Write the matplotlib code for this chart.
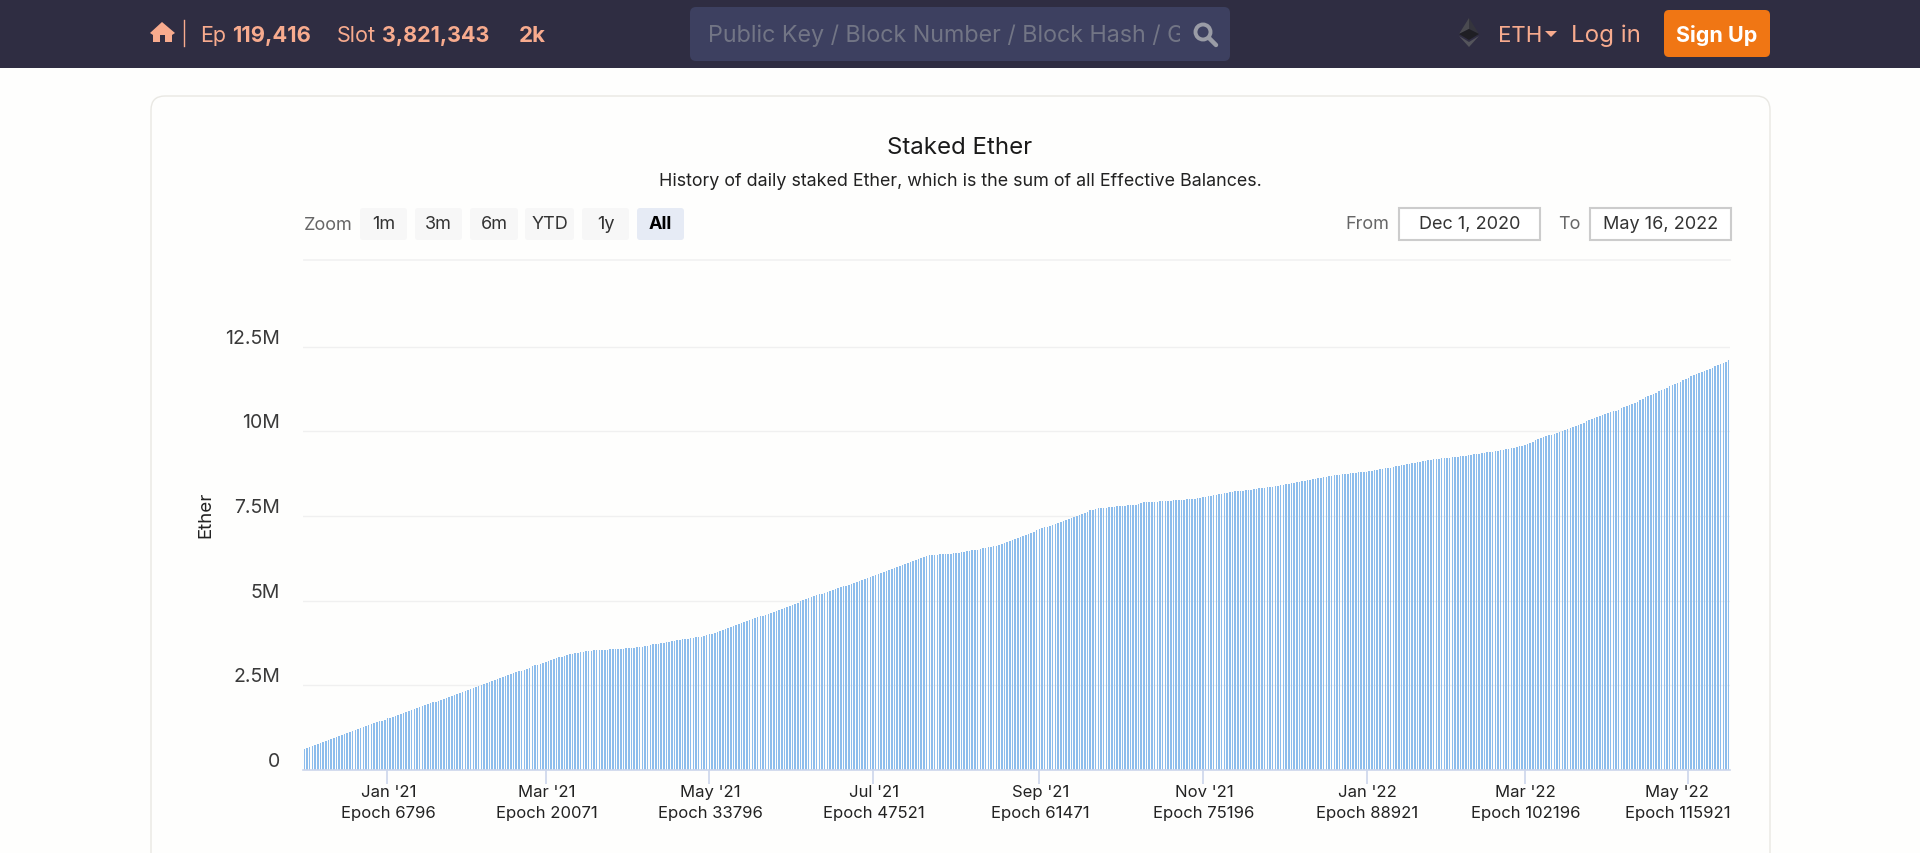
#!/usr/bin/env python
"""Staked Ether page: navbar, card and the daily column chart."""

import numpy as np
import matplotlib
matplotlib.use("Agg")
import matplotlib.pyplot as plt
from matplotlib.patches import Circle, FancyBboxPatch, Polygon, Rectangle

W, H = 1920, 854

# daily staked Ether in millions
dec_20 = [0.62, 0.65, 0.68, 0.71, 0.74, 0.77, 0.80, 0.83, 0.86, 0.89, 0.91, 0.94, 0.97, 1.00, 1.03, 1.06,
          1.09, 1.12, 1.15, 1.18, 1.21, 1.24, 1.27, 1.29, 1.32, 1.35, 1.37, 1.40, 1.43, 1.45, 1.48]
jan_21 = [1.52, 1.54, 1.57, 1.60, 1.62, 1.65, 1.68, 1.71, 1.74, 1.77, 1.80, 1.83, 1.85, 1.88, 1.91, 1.93,
          1.96, 1.99, 2.01, 2.04, 2.07, 2.10, 2.12, 2.15, 2.18, 2.20, 2.23, 2.26, 2.29, 2.33, 2.36]
feb_21 = [2.39, 2.42, 2.45, 2.48, 2.51, 2.54, 2.57, 2.60, 2.62, 2.65, 2.68, 2.71, 2.74, 2.77,
          2.80, 2.83, 2.85, 2.88, 2.91, 2.93, 2.96, 2.99, 3.02, 3.05, 3.08, 3.10, 3.13, 3.16]
mar_21 = [3.19, 3.21, 3.24, 3.26, 3.29, 3.32, 3.34, 3.36, 3.39, 3.41, 3.43, 3.44, 3.46, 3.47, 3.49, 3.50,
          3.51, 3.52, 3.53, 3.54, 3.54, 3.54, 3.55, 3.55, 3.56, 3.56, 3.57, 3.57, 3.58, 3.58, 3.59]
apr_21 = [3.59, 3.60, 3.61, 3.62, 3.63, 3.64, 3.66, 3.67, 3.68, 3.70, 3.71, 3.72, 3.74, 3.75, 3.77,
          3.78, 3.80, 3.81, 3.82, 3.83, 3.85, 3.86, 3.87, 3.88, 3.90, 3.91, 3.92, 3.93, 3.96, 3.98]
may_21 = [4.00, 4.02, 4.05, 4.07, 4.10, 4.13, 4.16, 4.19, 4.22, 4.25, 4.28, 4.31, 4.34, 4.37, 4.39, 4.42,
          4.45, 4.48, 4.50, 4.53, 4.55, 4.58, 4.60, 4.63, 4.66, 4.69, 4.72, 4.75, 4.78, 4.81, 4.84]
jun_21 = [4.87, 4.90, 4.94, 4.98, 5.01, 5.04, 5.07, 5.10, 5.13, 5.15, 5.18, 5.20, 5.23, 5.25, 5.28,
          5.31, 5.34, 5.37, 5.39, 5.42, 5.44, 5.47, 5.50, 5.52, 5.55, 5.57, 5.60, 5.63, 5.66, 5.68]
jul_21 = [5.71, 5.74, 5.77, 5.80, 5.83, 5.86, 5.89, 5.92, 5.96, 6.00, 6.03, 6.06, 6.09, 6.12, 6.15, 6.18,
          6.21, 6.24, 6.27, 6.30, 6.32, 6.33, 6.34, 6.35, 6.35, 6.36, 6.36, 6.37, 6.38, 6.38, 6.39]
aug_21 = [6.40, 6.41, 6.42, 6.43, 6.45, 6.47, 6.48, 6.49, 6.50, 6.52, 6.54, 6.55, 6.57, 6.59, 6.60, 6.62,
          6.64, 6.67, 6.70, 6.72, 6.75, 6.78, 6.81, 6.84, 6.87, 6.90, 6.93, 6.96, 7.00, 7.03, 7.07]
sep_21 = [7.10, 7.13, 7.16, 7.18, 7.21, 7.24, 7.27, 7.30, 7.33, 7.36, 7.39, 7.41, 7.44, 7.47, 7.50,
          7.53, 7.56, 7.60, 7.63, 7.66, 7.68, 7.70, 7.72, 7.72, 7.73, 7.74, 7.75, 7.76, 7.77, 7.78]
oct_21 = [7.78, 7.79, 7.80, 7.81, 7.81, 7.82, 7.83, 7.85, 7.87, 7.90, 7.91, 7.91, 7.91, 7.92, 7.92, 7.93,
          7.94, 7.95, 7.95, 7.95, 7.96, 7.96, 7.97, 7.98, 7.98, 7.99, 7.99, 8.00, 8.01, 8.02, 8.03]
nov_21 = [8.05, 8.07, 8.08, 8.10, 8.11, 8.13, 8.14, 8.16, 8.17, 8.19, 8.20, 8.21, 8.23, 8.24, 8.25,
          8.25, 8.26, 8.27, 8.28, 8.29, 8.30, 8.31, 8.32, 8.33, 8.34, 8.35, 8.36, 8.38, 8.39, 8.41]
dec_21 = [8.42, 8.43, 8.44, 8.46, 8.47, 8.49, 8.51, 8.52, 8.53, 8.55, 8.57, 8.58, 8.60, 8.62, 8.63, 8.65,
          8.66, 8.68, 8.69, 8.70, 8.71, 8.72, 8.73, 8.74, 8.75, 8.76, 8.77, 8.78, 8.79, 8.80, 8.80]
jan_22 = [8.81, 8.82, 8.84, 8.85, 8.87, 8.88, 8.90, 8.91, 8.92, 8.93, 8.95, 8.96, 8.98, 8.99, 9.01, 9.02,
          9.03, 9.05, 9.06, 9.08, 9.09, 9.11, 9.13, 9.15, 9.16, 9.17, 9.18, 9.19, 9.20, 9.21, 9.21]
feb_22 = [9.22, 9.23, 9.24, 9.25, 9.26, 9.27, 9.28, 9.30, 9.31, 9.32, 9.33, 9.34, 9.35, 9.36,
          9.38, 9.39, 9.40, 9.42, 9.43, 9.44, 9.46, 9.47, 9.49, 9.50, 9.52, 9.54, 9.56, 9.58]
mar_22 = [9.60, 9.63, 9.66, 9.69, 9.73, 9.76, 9.79, 9.82, 9.85, 9.88, 9.90, 9.93, 9.96, 9.99, 10.02, 10.05,
          10.08, 10.11, 10.14, 10.17, 10.20, 10.23, 10.26, 10.29, 10.32, 10.35, 10.38, 10.41, 10.44, 10.47, 10.50]
apr_22 = [10.53, 10.56, 10.59, 10.61, 10.64, 10.68, 10.71, 10.74, 10.78, 10.81, 10.84, 10.88, 10.92, 10.96, 11.00,
          11.03, 11.07, 11.11, 11.14, 11.18, 11.22, 11.26, 11.29, 11.33, 11.37, 11.40, 11.44, 11.47, 11.51, 11.54]
may_22 = [11.58, 11.62, 11.65, 11.69, 11.72, 11.75, 11.78, 11.82, 11.85, 11.88, 11.92, 11.95, 11.98, 12.02, 12.06, 12.11]

staked = (dec_20 + jan_21 + feb_21 + mar_21 + apr_21 + may_21 + jun_21 + jul_21 + aug_21
          + sep_21 + oct_21 + nov_21 + dec_21 + jan_22 + feb_22 + mar_22 + apr_22 + may_22)
assert len(staked) == 532

y_ticks = [0, 2.5, 5, 7.5, 10, 12.5]
y_labels = ["0", "2.5M", "5M", "7.5M", "10M", "12.5M"]
# days since Dec 1, 2020
tick_days = [31, 90, 151, 212, 274, 335, 396, 455, 516]
tick_months = ["Jan '21", "Mar '21", "May '21", "Jul '21", "Sep '21", "Nov '21", "Jan '22", "Mar '22", "May '22"]
tick_epochs = ["Epoch 6796", "Epoch 20071", "Epoch 33796", "Epoch 47521", "Epoch 61471",
               "Epoch 75196", "Epoch 88921", "Epoch 102196", "Epoch 115921"]
zoom_labels = ["1m", "3m", "6m", "YTD", "1y", "All"]

NAV = "#2f2d42"
SALMON = "#f8ab8e"
PAGE = "#fefefd"
BAR = "#8dbdec"
GRID = "#f0f0f0"
AXIS = "#ccd6eb"

plt.rcParams["font.family"] = ["Inter", "DejaVu Sans"]

fig = plt.figure(figsize=(W / 100, H / 100), dpi=100, facecolor=PAGE)

# page chrome is laid out in screen pixels, y pointing down
bg = fig.add_axes([0, 0, 1, 1])
bg.set_xlim(0, W)
bg.set_ylim(H, 0)
bg.axis("off")


def box(x0, y0, x1, y1, color, radius=4, edge="none", lw=0, z=1):
    p = FancyBboxPatch((x0 + radius, y0 + radius), x1 - x0 - 2 * radius, y1 - y0 - 2 * radius,
                       boxstyle=f"round,pad={radius},rounding_size={radius}",
                       fc=color, ec=edge, lw=lw, zorder=z)
    bg.add_patch(p)
    return p


def label(x, y, s, size=13, color="#333333", ha="left", weight="normal", **kw):
    return bg.text(x, y, s, fontsize=size, color=color, ha=ha, va="center", fontweight=weight, zorder=5, **kw)


# navbar
bg.add_patch(Rectangle((0, 0), W, 69, fc=NAV, ec="none", zorder=1))
bg.add_patch(Polygon([(150, 34), (162, 23), (175, 34), (172, 36), (172, 43), (165, 43), (165, 36),
                      (160, 36), (160, 43), (153, 43), (153, 36)], fc=SALMON, ec="none", zorder=3))
bg.plot([184, 184], [21, 47], color=SALMON, lw=1, zorder=3)
label(200, 35.5, "Ep", 15.5, SALMON)
label(232, 35.5, "119,416", 15.8, SALMON, weight="bold")
label(337, 35.5, "Slot", 15.5, SALMON)
label(382, 35.5, "3,821,343", 15.5, SALMON, weight="bold")
label(519, 35.5, "2k", 16, SALMON, weight="bold")

box(690, 8, 1230, 62, "#3d4060", radius=6, z=2)
ph = label(708, 35.5, "Public Key / Block Number / Block Hash / Graffiti", 16.8, "#727585")
ph.set_clip_path(Rectangle((690, 8), 490, 54, transform=bg.transData))
ph.set_clip_on(True)
bg.add_patch(Circle((1203, 33), 7.5, fc="none", ec="#9a9ca6", lw=2.8, zorder=3))
bg.plot([1209, 1216], [39, 46], color="#9a9ca6", lw=3.2, zorder=3, solid_capstyle="round")

bg.add_patch(Polygon([(1469, 19), (1459, 35), (1469, 30)], fc="#4a4a50", ec="none", zorder=3))
bg.add_patch(Polygon([(1469, 19), (1479, 35), (1469, 30)], fc="#35353d", ec="none", zorder=3))
bg.add_patch(Polygon([(1459, 35), (1469, 30), (1479, 35), (1469, 41)], fc="#1f1f24", ec="none", zorder=3))
bg.add_patch(Polygon([(1459, 37), (1469, 48), (1479, 37), (1469, 43)], fc="#55555c", ec="none", zorder=3))
label(1498, 35.5, "ETH", 16, SALMON)
bg.add_patch(Polygon([(1545, 32), (1557, 32), (1551, 38)], fc=SALMON, ec="none", zorder=3))
label(1571, 35.5, "Log in", 17.4, SALMON)
box(1664, 11, 1770, 58, "#f07614", radius=5, z=2)
label(1717, 35, "Sign Up", 15.5, "white", ha="center", weight="bold")

# card
box(151, 97, 1770, 900, PAGE, radius=14, edge="#e9e8e3", lw=1, z=1)
label(960, 148, "Staked Ether", 17.3, "#1a1a1a", ha="center")
label(960, 181, "History of daily staked Ether, which is the sum of all Effective Balances.", 12.9, "#222222", ha="center")

# range selector
label(304, 226, "Zoom", 13, "#666666")
zoom_edges = [(360, 407), (415, 462), (470, 518), (525, 574), (582, 629), (637, 684)]
for (x0, x1), s in zip(zoom_edges, zoom_labels):
    active = s == "All"
    box(x0, 209, x1, 241, "#e6ebf5" if active else "#f7f7f7", radius=3, z=2)
    label((x0 + x1) / 2, 224.5, s, 13, "black" if active else "#333333", ha="center", weight="bold" if active else "normal")
label(1345, 224.5, "From", 13, "#666666")
label(1558, 224.5, "To", 13, "#666666")
for x0, x1, s in [(1399, 1540, "Dec 1, 2020"), (1590, 1731, "May 16, 2022")]:
    bg.add_patch(Rectangle((x0, 209), x1 - x0, 32, fc="white", ec="#cccccc", lw=1.5, zorder=2))
    label((x0 + x1) / 2, 224.5, s, 13, "#333333", ha="center")
bg.plot([304, 1730], [261, 261], color="#f2f2f2", lw=1.3, zorder=2)

# y=770.7 is zero and 2.5M spans 84.6 px, the top of the axes is 15M
plot_left, plot_right, plot_bottom = 303, 1730, 770.7
plot_top = plot_bottom - 15 / 2.5 * 84.6
ax = fig.add_axes([plot_left / W, 1 - plot_bottom / H, (plot_right - plot_left) / W, (plot_bottom - plot_top) / H])
ax.patch.set_alpha(0)
x = np.arange(len(staked))
ax.bar(x, staked, width=0.58, color=BAR, linewidth=0, zorder=2)
ax.set_xlim(-0.5, 531.5)
ax.set_ylim(0, 15)
for s in ["top", "right", "left"]:
    ax.spines[s].set_visible(False)
ax.spines["bottom"].set_color(AXIS)
ax.spines["bottom"].set_linewidth(1.2)

ax.set_yticks(y_ticks)
ax.set_yticklabels([])
ax.tick_params(axis="y", length=0)
ax.grid(True, axis="y", color=GRID, lw=1, zorder=1)
ax.set_axisbelow(True)
for v, s in zip(y_ticks, y_labels):
    ax.annotate(s, (0, v), xycoords=("axes fraction", "data"), xytext=(-23, 9), textcoords="offset pixels",
                ha="right", va="center", fontsize=14, color="#3a3a3a")

ax.set_xticks(tick_days)
ax.set_xticklabels([])
ax.tick_params(axis="x", length=10, width=1.2, color=AXIS)
for i, (d, m, e) in enumerate(zip(tick_days, tick_months, tick_epochs)):
    # the last label is pushed back inside the plot
    dx = -11 if i == len(tick_days) - 1 else 1
    ax.annotate(m, (d, 0), xycoords=("data", "axes fraction"), xytext=(dx, -22), textcoords="offset pixels",
                ha="center", va="center", fontsize=12, color="#222222")
    ax.annotate(e, (d, 0), xycoords=("data", "axes fraction"), xytext=(dx, -43), textcoords="offset pixels",
                ha="center", va="center", fontsize=12, color="#222222")
label(206, 515, "Ether", 13.5, "#222222", ha="center", rotation=90)

fig.savefig("out.png", dpi=100, facecolor=PAGE)
